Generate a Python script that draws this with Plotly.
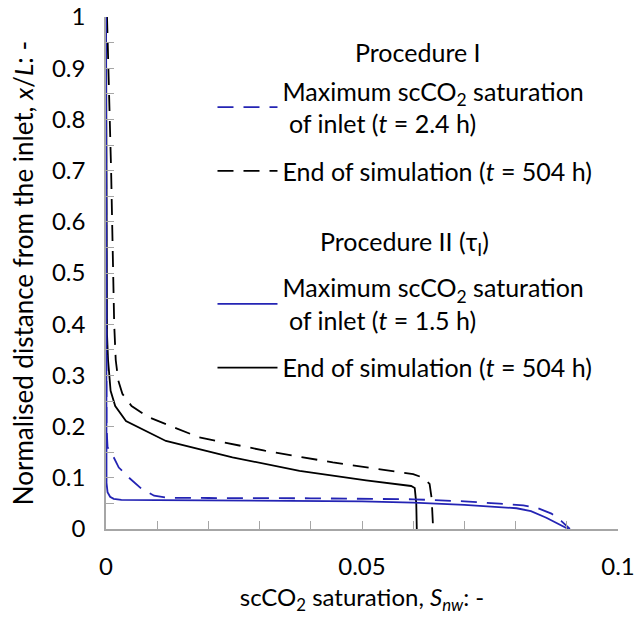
import plotly.graph_objects as go

# Procedure I, maximum scCO2 saturation of inlet (t = 2.4 h) - blue dashed
p1_max_x = [0.0, 0.0, 0.0001, 0.0003, 0.0008, 0.0015, 0.0025, 0.0045, 0.007, 0.0094, 0.012, 0.02, 0.04, 0.06, 0.07, 0.0769, 0.0815, 0.0841, 0.087, 0.089, 0.0906]
p1_max_y = [1.0, 0.5, 0.2, 0.16, 0.15, 0.14, 0.12, 0.1, 0.078, 0.065, 0.061, 0.0605, 0.06, 0.058, 0.054, 0.0495, 0.046, 0.0417, 0.03, 0.015, 0.0]

# Procedure I, end of simulation (t = 504 h) - black dashed
p1_end_x = [0.0002, 0.0005, 0.0008, 0.001, 0.0012, 0.0014, 0.0016, 0.0019, 0.0024, 0.0032, 0.005, 0.0084, 0.0182, 0.031, 0.0443, 0.06, 0.062, 0.0632, 0.0636, 0.0639]
p1_end_y = [1.0, 0.9, 0.8, 0.7, 0.6, 0.5, 0.4, 0.33, 0.29, 0.264, 0.24, 0.218, 0.179, 0.153, 0.13, 0.107, 0.1, 0.088, 0.06, 0.0]

# Procedure II, maximum scCO2 saturation of inlet (t = 1.5 h) - blue solid
p2_max_x = [0.0, 0.0, 0.0001, 0.0003, 0.0008, 0.0015, 0.003, 0.01, 0.03, 0.05, 0.06, 0.07, 0.0802, 0.083, 0.086, 0.0885, 0.0903]
p2_max_y = [1.0, 0.3, 0.09, 0.072, 0.063, 0.059, 0.057, 0.0565, 0.0555, 0.054, 0.0515, 0.047, 0.0405, 0.035, 0.022, 0.01, 0.0]

# Procedure II, end of simulation (t = 504 h) - black solid
p2_end_x = [0.0, 0.0001, 0.0002, 0.0004, 0.0009, 0.0018, 0.0039, 0.0117, 0.0247, 0.0378, 0.0508, 0.0596, 0.0603, 0.0606, 0.0607]
p2_end_y = [1.0, 0.5, 0.38, 0.33, 0.27, 0.24, 0.211, 0.172, 0.14, 0.1135, 0.095, 0.084, 0.08, 0.05, 0.0]

x_tickvals = [0.0, 0.01, 0.02, 0.03, 0.04, 0.05, 0.06, 0.07, 0.08, 0.09, 0.1]
x_ticktext = ["0", "", "", "", "", "0.05", "", "", "", "", "0.1"]
y_tickvals = [0.0, 0.05, 0.1, 0.15, 0.2, 0.25, 0.3, 0.35, 0.4, 0.45, 0.5, 0.55, 0.6, 0.65, 0.7, 0.75, 0.8, 0.85, 0.9, 0.95, 1.0]
y_ticktext = ["0", "", "0.1", "", "0.2", "", "0.3", "", "0.4", "", "0.5", "", "0.6", "", "0.7", "", "0.8", "", "0.9", "", "1"]

group_titles = ["Procedure I", "Procedure II (τ<sub>I</sub>)"]

BLUE = "#2424b4"
FONT = "Lato"
TICK_FS = 24
LEG_FS = 25
AXIS_GREY = "#a6a6a6"

fig = go.Figure()

fig.add_trace(go.Scatter(
    x=p1_end_x, y=p1_end_y, mode="lines", legend="legend", legendrank=2, legendgroup="a2",
    name="End of simulation (<i>t</i> = 504 h)",
    line=dict(color="black", width=1.8, dash="16px,10px")))
fig.add_trace(go.Scatter(
    x=p2_end_x, y=p2_end_y, mode="lines", legend="legend2", legendrank=4, legendgroup="b2",
    name="End of simulation (<i>t</i> = 504 h)",
    line=dict(color="black", width=1.8)))
fig.add_trace(go.Scatter(
    x=p1_max_x, y=p1_max_y, mode="lines", legend="legend", legendrank=1, legendgroup="a1",
    name="Maximum scCO<sub>2</sub> saturation<br> of inlet (<i>t</i> = 2.4 h)",
    line=dict(color=BLUE, width=1.8, dash="16px,10px")))
fig.add_trace(go.Scatter(
    x=p2_max_x, y=p2_max_y, mode="lines", legend="legend2", legendrank=3, legendgroup="b1",
    name="Maximum scCO<sub>2</sub> saturation<br> of inlet (<i>t</i> = 1.5 h)",
    line=dict(color=BLUE, width=1.8)))

axis_common = dict(
    showgrid=False, zeroline=False, showline=True, linecolor=AXIS_GREY, linewidth=1.5,
    ticks="inside", ticklen=8, tickcolor=AXIS_GREY, tickwidth=1.2,
    tickfont=dict(family=FONT, size=TICK_FS, color="black"), automargin=False,
    ticklabeloverflow="allow",
)

legend_common = dict(xanchor="left", yanchor="top", traceorder="grouped",
                     bgcolor="rgba(0,0,0,0)", font=dict(family=FONT, size=LEG_FS),
                     tracegroupgap=12, itemwidth=60)

fig.update_layout(
    width=634, height=626,
    margin=dict(l=106, r=16, t=17, b=97),
    paper_bgcolor="white", plot_bgcolor="white",
    font=dict(family=FONT, size=LEG_FS, color="black"),
    xaxis=dict(range=[0, 0.1], tickvals=x_tickvals, ticktext=x_ticktext,
               ticklabelstandoff=15,
               title=dict(text="scCO<sub>2</sub> saturation, <i>S<sub>nw</sub></i>: -",
                          font=dict(family=FONT, size=24), standoff=11),
               **axis_common),
    yaxis=dict(range=[0, 1], tickvals=y_tickvals, ticktext=y_ticktext,
               ticklabelstandoff=14,
               title=dict(text="Normalised distance from the inlet, <i>x</i>/<i>L</i>: -",
                          font=dict(family=FONT, size=26), standoff=11),
               **axis_common),
    xaxis2=dict(range=[0, 0.1], tickvals=x_tickvals, showticklabels=False,
                overlaying="x", side="top", anchor="y", **axis_common),
    yaxis2=dict(range=[0, 1], tickvals=y_tickvals, showticklabels=False,
                overlaying="y", side="right", anchor="x", **axis_common),
    legend=dict(x=0.208, y=0.9, **legend_common),
    legend2=dict(x=0.208, y=0.516, **legend_common),
    showlegend=True,
    annotations=[
        dict(text=group_titles[0], xref="paper", yref="paper", x=0.609, y=0.9316,
             xanchor="center", yanchor="middle", showarrow=False,
             font=dict(family=FONT, size=LEG_FS, color="black")),
        dict(text=group_titles[1], xref="paper", yref="paper", x=0.583, y=0.5586,
             xanchor="center", yanchor="middle", showarrow=False,
             font=dict(family=FONT, size=LEG_FS, color="black")),
    ],
)

fig.write_html(
    "out.html",
    config={"displayModeBar": False},
    post_script=("document.documentElement.style.overflow='hidden';"
                 "document.body.style.overflow='hidden';"
                 "document.body.style.margin='0';"),
)
